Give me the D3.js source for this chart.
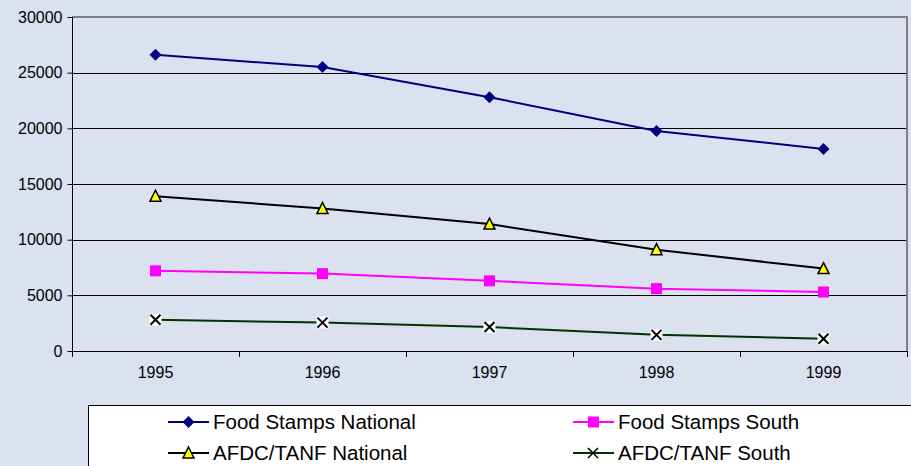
<!DOCTYPE html>
<html><head><meta charset="utf-8">
<script src="https://cdn.jsdelivr.net/npm/d3@7"></script>
<style>body{margin:0;background:#DCE1EF;}svg{display:block;font-family:"Liberation Sans",Arial,sans-serif;}</style>
</head><body><svg width="911" height="466"></svg>
<script>
const years = ["1995","1996","1997","1998","1999"];
const yTicks = [0,5000,10000,15000,20000,25000,30000];
const foodStampsNational = [26600,25500,22800,19760,18150];
const foodStampsSouth = [7200,6950,6300,5600,5300];
const afdcNational = [13900,12800,11400,9100,7400];
const afdcSouth = [2800,2550,2150,1450,1100];
const seriesNames = ["Food Stamps National","Food Stamps South","AFDC/TANF National","AFDC/TANF South"];

const series = [
  {name:seriesNames[0], values:foodStampsNational, color:"#000080", marker:"diamond"},
  {name:seriesNames[1], values:foodStampsSouth, color:"#FF00FF", marker:"square"},
  {name:seriesNames[2], values:afdcNational, color:"#000000", marker:"triangle"},
  {name:seriesNames[3], values:afdcSouth, color:"#003300", marker:"x"}
];

const svg = d3.select("svg");
const L=72, R=907, T=17, B=351;
const x = d3.scaleBand().domain(years).range([L,R]);
const y = d3.scaleLinear().domain([0,30000]).range([B,T]);

svg.append("rect").attr("width",911).attr("height",466).attr("fill","#DCE1EF");

// gridlines
svg.append("g").selectAll("line").data(yTicks.filter(d=>d>0 && d<30000)).join("line")
  .attr("x1",L).attr("x2",R).attr("y1",d=>Math.round(y(d))+0.5).attr("y2",d=>Math.round(y(d))+0.5)
  .attr("stroke","#000").attr("stroke-width",1);
// plot border top/right
svg.append("path").attr("d",`M${L},${T}H${R}V${B}`).attr("fill","none").attr("stroke","#808080").attr("stroke-width",2);

// y axis
const ya = svg.append("g").attr("transform",`translate(${L+0.5},0)`)
  .call(d3.axisLeft(y).tickValues(yTicks).tickSize(5).tickPadding(5).tickFormat(d3.format("d")));
ya.attr("font-size",16).attr("font-family","Liberation Sans, Arial, sans-serif");
ya.select(".domain").attr("d",`M0,${T}V${B}`).attr("stroke","#000");
ya.selectAll("line").attr("stroke","#000");
ya.selectAll("text").attr("fill","#000");

// x axis
const xa = svg.append("g").attr("transform",`translate(0,${B+0.5})`)
  .call(d3.axisBottom(x).tickSize(0).tickPadding(15));
xa.attr("font-size",16).attr("font-family","Liberation Sans, Arial, sans-serif");
xa.select(".domain").attr("d",`M${L},0H${R}`).attr("stroke","#000");
xa.selectAll("text").attr("fill","#000");
const bounds = years.map(d=>x(d)).concat([R]);
svg.append("g").selectAll("line").data(bounds).join("line")
  .attr("x1",d=>Math.round(d)+0.5).attr("x2",d=>Math.round(d)+0.5).attr("y1",B).attr("y2",B+6).attr("stroke","#000");

const cx = d => x(d)+x.bandwidth()/2;

function drawMarker(g, type, color, px, py){
  if(type==="diamond"){
    g.append("path").attr("d",`M${px},${py-6}L${px+6},${py}L${px},${py+6}L${px-6},${py}Z`).attr("fill",color);
  } else if(type==="square"){
    g.append("rect").attr("x",px-5.5).attr("y",py-5.5).attr("width",11).attr("height",11).attr("fill",color);
  } else if(type==="triangle"){
    g.append("path").attr("d",`M${px},${py-6}L${px+5.5},${py+5}L${px-5.5},${py+5}Z`).attr("fill","#FFFF00").attr("stroke","#000").attr("stroke-width",1.5);
  } else if(type==="x"){
    g.append("rect").attr("x",px-6).attr("y",py-6).attr("width",12).attr("height",12).attr("fill","#fff");
    g.append("path").attr("d",`M${px-5},${py-5}L${px+5},${py+5}M${px+5},${py-5}L${px-5},${py+5}`).attr("stroke","#000").attr("stroke-width",2);
  }
}

const line = d3.line().x((d,i)=>cx(years[i])).y(d=>y(d));
series.forEach(s=>{
  svg.append("path").datum(s.values).attr("d",line).attr("fill","none").attr("stroke",s.color).attr("stroke-width",2);
});
series.forEach(s=>{
  const g = svg.append("g");
  s.values.forEach((v,i)=>drawMarker(g,s.marker,s.color,cx(years[i]),y(v)));
});

// legend
svg.append("rect").attr("x",88.5).attr("y",405.5).attr("width",830).attr("height",80).attr("fill","#fff").attr("stroke","#000").attr("stroke-width",1);
const legPos = [[168,422],[573,422],[168,453],[573,453]];
series.forEach((s,i)=>{
  const [lx,ly] = legPos[i];
  const g = svg.append("g");
  g.append("line").attr("x1",lx).attr("x2",lx+41).attr("y1",ly).attr("y2",ly).attr("stroke",s.color).attr("stroke-width",2);
  if(s.marker==="x"){
    g.append("path").attr("d",`M${lx+15},${ly-5}L${lx+25},${ly+5}M${lx+25},${ly-5}L${lx+15},${ly+5}`).attr("stroke","#000").attr("stroke-width",1.5);
  } else drawMarker(g,s.marker,s.color,lx+20.5,ly);
  g.append("text").attr("x",lx+45).attr("y",ly+7).attr("font-size",20.5).attr("fill","#000").text(s.name);
});
</script></body></html>
